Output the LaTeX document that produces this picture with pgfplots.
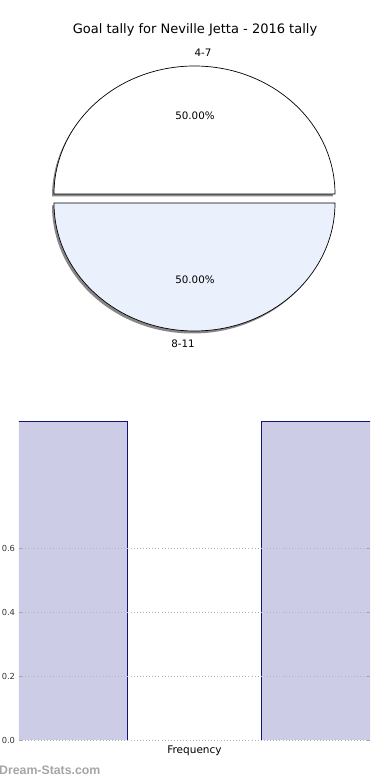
\documentclass[border=0pt]{standalone}
\usepackage{pgfplots}
\pgfplotsset{compat=1.18}
\usepackage{fontspec}
\setmainfont{DejaVu Sans}
\newfontfamily\wmfont{Liberation Sans}
\definecolor{barfill}{RGB}{204,204,230}
\definecolor{baredge}{RGB}{20,20,120}
\definecolor{slicetwo}{RGB}{234,240,252}
\definecolor{shadow}{RGB}{135,135,135}
\definecolor{wm}{RGB}{165,165,165}
\definecolor{gridc}{RGB}{180,180,180}
\begin{document}
\begin{tikzpicture}[x=1pt,y=1pt]
\useasboundingbox (0,0) rectangle (390,780);
% ---------- pie ----------
\begin{axis}[at={(0pt,0pt)}, anchor=south west, width=390pt, height=780pt,
  scale only axis, xmin=0, xmax=390, ymin=0, ymax=780, hide axis, clip=false]
  % shadows
  \fill[shadow] (axis cs:192.5,583.5) -- (axis cs:333,583.5) arc[start angle=0,end angle=180,x radius=140.5pt,y radius=128pt] -- cycle;
  \fill[shadow] (axis cs:192.5,574.5) -- (axis cs:333,574.5) arc[start angle=0,end angle=-180,x radius=140.5pt,y radius=128pt] -- cycle;
  % slice 4-7 (50%)
  \filldraw[fill=white, draw=black, line width=0.7pt] (axis cs:194.5,586) -- (axis cs:335,586) arc[start angle=0,end angle=180,x radius=140.5pt,y radius=128pt] -- cycle;
  % slice 8-11 (50%)
  \filldraw[fill=slicetwo, draw=black, line width=0.7pt] (axis cs:194.5,577) -- (axis cs:335,577) arc[start angle=0,end angle=-180,x radius=140.5pt,y radius=128pt] -- cycle;
  \node[font=\fontsize{10.3}{12}\selectfont] at (axis cs:195,664) {50.00\%};
  \node[font=\fontsize{10.3}{12}\selectfont] at (axis cs:195,500) {50.00\%};
  \node[font=\fontsize{10.3}{12}\selectfont] at (axis cs:203,727) {4-7};
  \node[font=\fontsize{10.3}{12}\selectfont] at (axis cs:183,436) {8-11};
  \node[font=\fontsize{13}{15}\selectfont] at (axis cs:195,750) {Goal tally for Neville Jetta - 2016 tally};
  \node[font=\wmfont\bfseries\fontsize{12.3}{14}\selectfont, text=wm, anchor=west, inner sep=0pt] at (axis cs:-1,10) {Dream-Stats.com};
\end{axis}
% ---------- histogram ----------
\begin{axis}[at={(19pt,40pt)}, anchor=south west, width=351pt, height=319pt,
  scale only axis, xmin=0, xmax=1, ymin=0, ymax=1,
  axis line style={draw=none},
  xtick=\empty,
  ytick={0,0.2,0.4,0.6},
  yticklabels={0.0,0.2,0.4,0.6},
  ymajorgrids,
  major grid style={dash pattern=on 0.9pt off 2.2pt, color=gridc, line width=0.9pt},
  ytick pos=both,
  tick align=inside,
  major tick length=3pt,
  every tick/.style={color=gray!70, line width=0.9pt},
  yticklabel style={font=\fontsize{8.3}{9}\selectfont, text=black!80, xshift=-0.5pt},
  xlabel={Frequency},
  xlabel style={font=\fontsize{10.5}{12}\selectfont, at={(axis description cs:0.5,0)}, anchor=north, yshift=-2pt},
  axis on top,
  clip=true]
  \addplot[ybar interval, fill=barfill, draw=baredge, line width=0.8pt] coordinates {(-0.02,1) (0.3077,1)};
  \addplot[ybar interval, fill=barfill, draw=baredge, line width=0.8pt] coordinates {(0.6895,1) (1.02,1)};
\end{axis}
\end{tikzpicture}
\end{document}
